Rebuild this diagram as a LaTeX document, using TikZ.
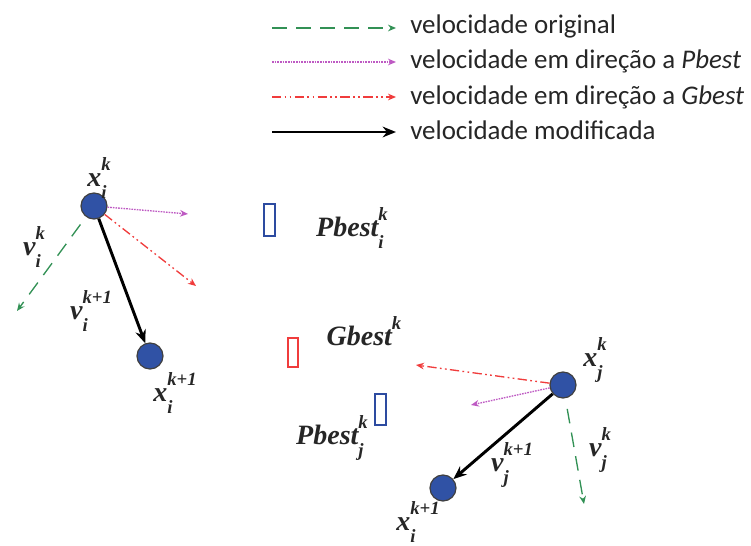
\documentclass[tikz,border=0pt]{standalone}
\usepackage{fontspec}
\setmainfont{Liberation Serif}
\newfontfamily\legfont{Carlito}
\usetikzlibrary{arrows.meta}
\definecolor{cgreen}{RGB}{50,145,85}
\definecolor{cpurple}{RGB}{190,90,195}
\definecolor{cred}{RGB}{240,60,60}
\definecolor{cblue}{RGB}{45,75,160}
\definecolor{cbluefill}{RGB}{48,82,165}
\newcommand{\sxl}[3]{#1\raisebox{-0.42em}{\rlap{\fontsize{14}{14}\selectfont #2}}\raisebox{0.55em}{\fontsize{14}{14}\selectfont #3}}
\tikzset{
  ptc/.style={circle,draw=black!75,line width=0.9pt,fill=cbluefill,minimum size=19.5pt,inner sep=0pt},
  origv/.style={cgreen,line width=1pt,dash pattern=on 11pt off 7pt,-{Stealth[length=6pt,width=5pt]}},
  pbv/.style={cpurple,line width=1pt,dash pattern=on 1.2pt off 0.8pt,-{Stealth[length=6pt,width=5pt]}},
  gbv/.style={cred,line width=1pt,dash pattern=on 7pt off 2.5pt on 1.3pt off 2.5pt on 1.3pt off 2.5pt,-{Stealth[length=6pt,width=5pt]}},
  modv/.style={black,line width=2.2pt,-{Stealth[length=10pt,width=8pt]}},
  legtxt/.style={anchor=base west,inner sep=0pt,text=black!85,font=\legfont\fontsize{20.2}{22}\selectfont},
  lbl/.style={inner sep=0pt,font=\fontsize{21}{22}\selectfont\bfseries\itshape,text=black!85},
  brect/.style={draw=cblue,line width=1.6pt},
  rrect/.style={draw=cred,line width=1.4pt},
}
\begin{document}
\begin{tikzpicture}[x=0.75pt,y=-0.75pt]
\useasboundingbox (0,0) rectangle (751,546);
% legend
\coordinate (l1a) at (272,28); \coordinate (l1b) at (396,28);
\coordinate (l2a) at (272,62); \coordinate (l2b) at (396,62);
\coordinate (l3a) at (272,97); \coordinate (l3b) at (396,97);
\coordinate (l4a) at (272,132); \coordinate (l4b) at (396,132);
\draw[origv] (l1a) -- (l1b);
\draw[pbv] (l2a) -- (l2b);
\draw[gbv] (l3a) -- (l3b);
\draw[modv] (l4a) -- (l4b);
\node[legtxt] (t1) at (410,33) {velocidade original};
\node[legtxt] (t2) at (410,68) {velocidade em direção a \textit{Pbest}};
\node[legtxt] (t3) at (410,104) {velocidade em direção a \textit{Gbest}};
\node[legtxt] (t4) at (410,139) {velocidade modificada};
% particles
\node[ptc] (xi) at (94,206) {};
\node[ptc] (xi1) at (150,356) {};
\node[ptc] (xj) at (563,385) {};
\node[ptc] (xj1) at (443,488) {};
% rectangles
\draw[brect] (264,204) rectangle (275,236);
\draw[rrect] (288,338) rectangle (298,367);
\draw[brect] (375,394) rectangle (386,425);
% particle i vectors
\coordinate (pi) at (188,214);
\coordinate (gi) at (196,286);
\coordinate (oi) at (17,311);
\draw[pbv] (xi) -- (pi);
\draw[gbv] (xi) -- (gi);
\draw[origv,shorten <=7pt] (xi) -- (oi);
\draw[modv] (xi) -- (xi1);
% particle j vectors
\coordinate (gj) at (416,365);
\coordinate (pj) at (471,405);
\coordinate (oj) at (584,504);
\draw[gbv] (xj) -- (gj);
\draw[pbv] (xj) -- (pj);
\draw[origv,shorten <=8pt] (xj) -- (oj);
\draw[modv] (xj) -- (xj1);
% labels
\node[lbl] (lxi) at (99,178) {\sxl{x}{i}{k}};
\node[lbl] (lvi) at (34,247) {\sxl{v}{i}{k}};
\node[lbl] (lvi1) at (91,311) {\sxl{v}{i}{k+1}};
\node[lbl] (lxi1) at (175,393) {\sxl{x}{i}{k+1}};
\node[lbl] (lpbi) at (352,228) {\sxl{Pbest}{i}{k}};
\node[lbl] (lgb) at (364,331) {Gbest\raisebox{0.55em}{\fontsize{14}{14}\selectfont k}};
\node[lbl] (lpbj) at (332,438) {\sxl{Pbest}{j}{k}};
\node[lbl] (lxj) at (595,360) {\sxl{x}{j}{k}};
\node[lbl] (lvj) at (600,450) {\sxl{v}{j}{k}};
\node[lbl] (lvj1) at (512,465) {\sxl{v}{j}{k+1}};
\node[lbl] (lxj1) at (418,522) {\sxl{x}{i}{k+1}};
\end{tikzpicture}
\end{document}
